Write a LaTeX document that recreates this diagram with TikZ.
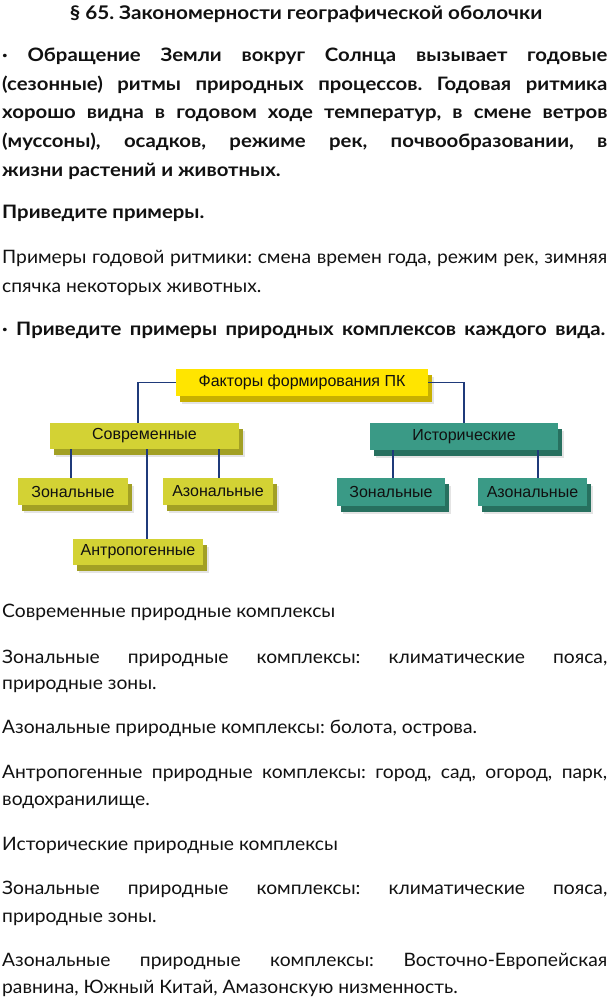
\documentclass[tikz,border=0pt]{standalone}
\usepackage{fontspec}
\usepackage{graphicx}
\setmainfont{Lato}[FakeStretch=1.04]
\newfontfamily\boldf{Lato}[FakeStretch=1.1]
\newfontfamily\arialf{Liberation Sans}
\usetikzlibrary{shadows}
\definecolor{yface}{HTML}{FFE500}
\definecolor{yside}{HTML}{C8B000}
\definecolor{oface}{HTML}{D3D234}
\definecolor{oside}{HTML}{A2A024}
\definecolor{tface}{HTML}{3A9A86}
\definecolor{tside}{HTML}{27705F}
\definecolor{conn}{HTML}{1F3A7A}
\definecolor{txt}{HTML}{111111}
\frenchspacing
\newcommand\just[1]{\makebox[605pt][s]{#1}}
\tikzset{
  line/.style={anchor=base west, inner sep=0pt, text=txt, font=\fontsize{18.5}{20}\selectfont},
  bline/.style={line, font=\boldf\fontsize{18.5}{20}\selectfont\bfseries},
  pkbox/.style={draw=none, inner sep=0pt, text=txt, font=\arialf\fontsize{16}{18}\selectfont,
    general shadow={fill=black!30, opacity=.35, shadow xshift=5.5pt, shadow yshift=-7.5pt},
    general shadow={fill=#1, shadow xshift=3.5pt, shadow yshift=-5.5pt}},
  conline/.style={draw=conn, line width=1.9pt},
}
\begin{document}
\begin{tikzpicture}[x=1pt,y=-1pt]
\useasboundingbox[fill=white] (0,0) rectangle (612,999);
% title
\node[bline, anchor=base, font=\boldf\fontsize{18.8}{20}\selectfont\bfseries] (title) at (306,19) {§ 65. Закономерности географической оболочки};
% bold paragraph
\node[bline] (b1) at (2,61) {\just{· Обращение Земли вокруг Солнца вызывает годовые}};
\node[bline] (b2) at (2,90) {\just{(сезонные) ритмы природных процессов. Годовая ритмика}};
\node[bline] (b3) at (2,118) {\just{хорошо видна в годовом ходе температур, в смене ветров}};
\node[bline] (b4) at (2,147) {\just{(муссоны), осадков, режиме рек, почвообразовании, в}};
\node[bline] (b5) at (2,176) {жизни растений и животных.};
\node[bline] (q1) at (2,218) {Приведите примеры.};
\node[line] (r1) at (2,263) {\just{Примеры годовой ритмики: смена времен года, режим рек, зимняя}};
\node[line] (r2) at (2,292) {спячка некоторых животных.};
\node[bline] (q2) at (2,335) {\makebox[603pt][s]{· Приведите примеры природных комплексов каждого вида.}};
% diagram
\node[pkbox=yside, fill=yface, minimum width=252pt, minimum height=27pt] (top) at (302,382.5) {Факторы формирования ПК};
\node[pkbox=oside, fill=oface, minimum width=189pt, minimum height=26pt] (sovr) at (144.5,436) {Современные};
\node[pkbox=tside, fill=tface, minimum width=188pt, minimum height=27pt] (ist) at (464,436.5) {Исторические};
\node[pkbox=oside, fill=oface, minimum width=110pt, minimum height=27pt] (zonL) at (73,491.5) {Зональные};
\node[pkbox=oside, fill=oface, minimum width=110pt, minimum height=27pt] (azonL) at (218,491.5) {Азональные};
\node[pkbox=oside, fill=oface, minimum width=130pt, minimum height=26pt] (antr) at (138,552) {Антропогенные};
\node[pkbox=tside, fill=tface, minimum width=108pt, minimum height=28pt] (zonR) at (391,492) {Зональные};
\node[pkbox=tside, fill=tface, minimum width=109pt, minimum height=28pt] (azonR) at (532.5,492) {Азональные};
\draw[conline] (top.west) -| ([xshift=-6.5pt]sovr.north);
\draw[conline] (top.east) -| (ist.north);
\draw[conline] ([xshift=-2pt]zonL.north) -- ([xshift=-2pt]zonL.north |- sovr.south);
\draw[conline] ([xshift=2.5pt]sovr.south) -- ([xshift=2.5pt]sovr.south |- antr.north);
\draw[conline] ([xshift=1pt]azonL.north) -- ([xshift=1pt]azonL.north |- sovr.south);
\draw[conline] ([xshift=2pt]zonR.north) -- ([xshift=2pt]zonR.north |- ist.south);
\draw[conline] ([xshift=5.5pt]azonR.north) -- ([xshift=5.5pt]azonR.north |- ist.south);
% lower text
\node[line] (l1) at (2,617) {Современные природные комплексы};
\node[line] (l2) at (2,663) {\just{Зональные природные комплексы: климатические пояса,}};
\node[line] (l3) at (2,689) {природные зоны.};
\node[line] (l4) at (2,733) {Азональные природные комплексы: болота, острова.};
\node[line] (l5) at (2,778) {\just{Антропогенные природные комплексы: город, сад, огород, парк,}};
\node[line] (l6) at (2,805) {водохранилище.};
\node[line] (l7) at (2,850) {Исторические природные комплексы};
\node[line] (l8) at (2,894) {\just{Зональные природные комплексы: климатические пояса,}};
\node[line] (l9) at (2,922) {природные зоны.};
\node[line] (l10) at (2,966) {\just{Азональные природные комплексы: Восточно-Европейская}};
\node[line] (l11) at (2,993) {равнина, Южный Китай, Амазонскую низменность.};
\end{tikzpicture}
\end{document}
